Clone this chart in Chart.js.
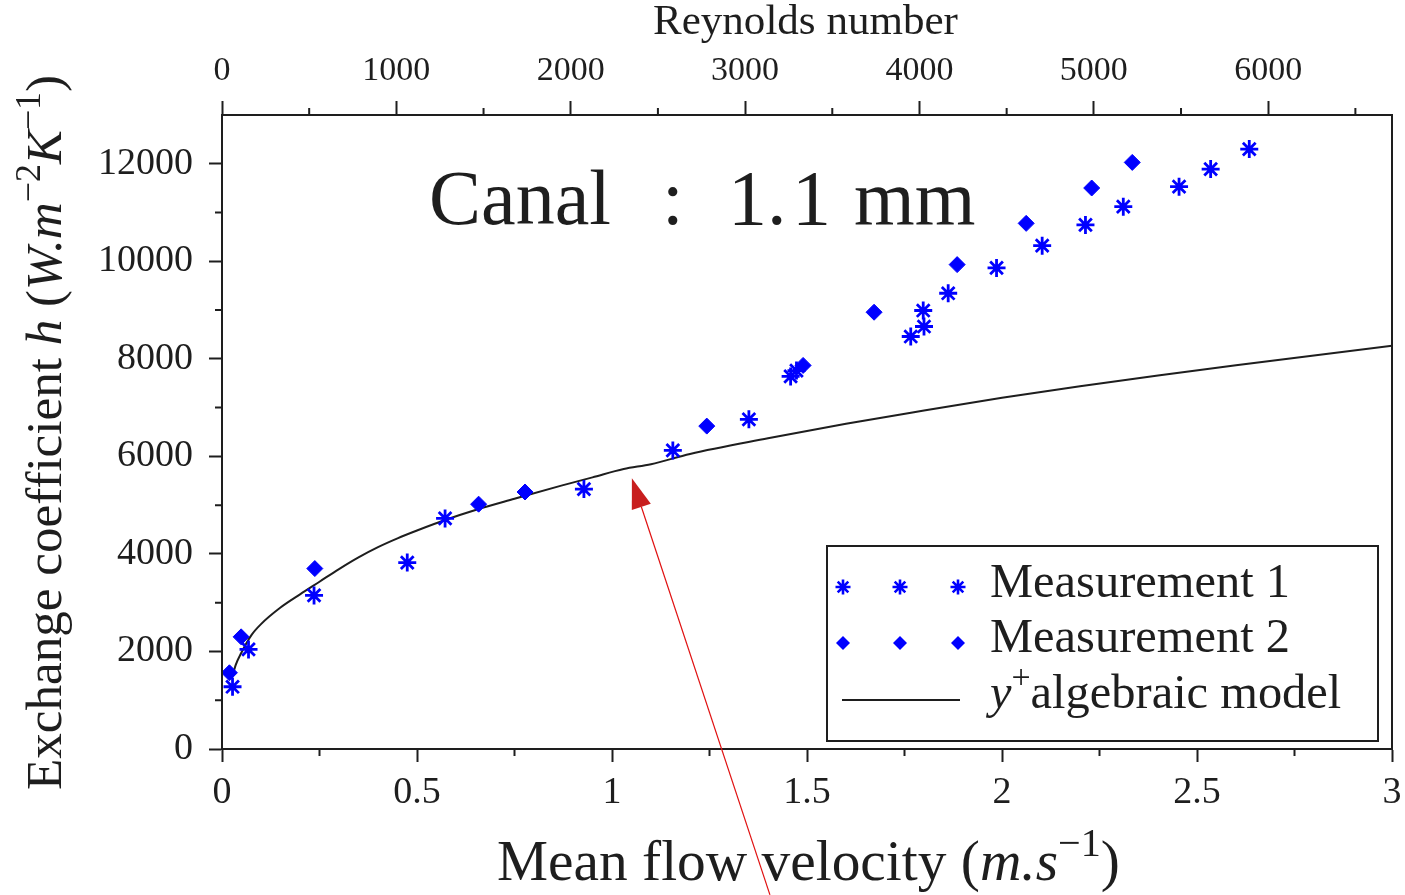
<!DOCTYPE html>
<html>
<head>
<meta charset="utf-8">
<script src="https://cdn.jsdelivr.net/npm/chart.js@4.4.1/dist/chart.umd.min.js"></script>
<style>
html,body{margin:0;padding:0;background:#fff;}
#wrap{width:1405px;height:895px;position:relative;}
</style>
</head>
<body>
<div id="wrap"><canvas id="c" width="1405" height="895"></canvas></div>
<script>
// ---- data ----
const velocityM1 = [0.027,0.068,0.236,0.475,0.572,0.928,1.156,1.351,1.458,1.473,1.766,1.798,1.800,1.862,1.986,2.103,2.214,2.311,2.454,2.535,2.634];
const hM1 = [1276,2042,3148,3823,4727,5330,6123,6760,7640,7760,8458,8991,8663,9345,9864,10321,10745,11120,11530,11892,12302];
const velocityM2 = [0.019,0.049,0.238,0.658,0.777,1.243,1.490,1.672,1.885,2.062,2.230,2.334];
const hM2 = [1563,2300,3700,5020,5270,6621,7865,8956,9932,10778,11503,12028];
const velocityModel = [0.025,0.035,0.05,0.075,0.1,0.15,0.2,0.25,0.3,0.35,0.4,0.45,0.5,0.57,0.65,0.75,0.87,0.95,1.03,1.1,1.2,1.4,1.6,1.8,2.0,2.2,2.4,2.6,2.8,3.0];
const hModel = [1440,1720,1980,2330,2560,2900,3170,3430,3690,3930,4140,4320,4480,4690,4900,5130,5400,5570,5740,5840,6050,6370,6670,6940,7200,7440,7660,7870,8070,8270];
const seriesNames = ['Measurement 1','Measurement 2','algebraic model'];
const velocityRange = [0, 3];
const hRange = [0, 13000];
const reynoldsRange = [0, 6710];
const velocityMajorTicks = [0,0.5,1,1.5,2,2.5,3];
const hMajorTicks = [0,2000,4000,6000,8000,10000,12000];
const reynoldsMajorTicks = [0,1000,2000,3000,4000,5000,6000];
const velocityMinorTicks = [0.25,0.75,1.25,1.75,2.25,2.75];
const hMinorTicks = [1000,3000,5000,7000,9000,11000];
const reynoldsMinorTicks = [500,1500,2500,3500,4500,5500,6500];
const arrowTail = [1.405, -2990];
const arrowTip = [1.051, 5550];

const BLUE = '#0000ff';
const INK = '#1e1e1e';
const SERIF = '"Liberation Serif", "Times New Roman", serif';

function toPts(xs, ys){ return xs.map((v,i)=>({x:v, y:ys[i]})); }

function segFont(s, size){
  const fs = s.sup ? size*0.7 : size;
  return (s.it ? 'italic ' : '') + fs.toFixed(2) + 'px ' + SERIF;
}
function richWidth(ctx, segs, size){
  let w = 0;
  for (const s of segs){ ctx.font = segFont(s,size); w += ctx.measureText(s.t).width; }
  return w;
}
function drawRich(ctx, segs, x, y, size){
  let cx = x;
  for (const s of segs){
    ctx.font = segFont(s,size);
    ctx.fillText(s.t, cx, s.sup ? y - size*0.42 : y);
    cx += ctx.measureText(s.t).width;
  }
}
function fitSize(ctx, segs, width){
  return 100 * width / richWidth(ctx, segs, 100);
}

function drawStar(ctx, x, y, r, lw){
  ctx.save();
  ctx.strokeStyle = BLUE; ctx.lineWidth = lw; ctx.lineCap = 'butt';
  ctx.beginPath();
  for (let k=0;k<4;k++){
    const a = k*Math.PI/4;
    ctx.moveTo(x - r*Math.cos(a), y - r*Math.sin(a));
    ctx.lineTo(x + r*Math.cos(a), y + r*Math.sin(a));
  }
  ctx.stroke();
  ctx.restore();
}
function drawDiamond(ctx, x, y, r){
  ctx.save();
  ctx.fillStyle = BLUE;
  ctx.beginPath();
  ctx.moveTo(x, y - r); ctx.lineTo(x + r, y); ctx.lineTo(x, y + r); ctx.lineTo(x - r, y);
  ctx.closePath(); ctx.fill();
  ctx.restore();
}

const decorPlugin = {
  id: 'decor',
  afterDraw(chart){
    const ctx = chart.ctx;
    const a = chart.chartArea;
    const sx = chart.scales.x, sy = chart.scales.y, sx2 = chart.scales.x2;
    ctx.save();
    // frame
    ctx.strokeStyle = INK; ctx.lineWidth = 2;
    ctx.strokeRect(a.left, a.top, a.right - a.left, a.bottom - a.top);
    // minor ticks
    ctx.beginPath();
    for (const v of velocityMinorTicks){ const p = sx.getPixelForValue(v); ctx.moveTo(p, a.bottom); ctx.lineTo(p, a.bottom + 7); }
    for (const v of reynoldsMinorTicks){ const p = sx2.getPixelForValue(v); ctx.moveTo(p, a.top); ctx.lineTo(p, a.top - 7); }
    for (const v of hMinorTicks){ const p = sy.getPixelForValue(v); ctx.moveTo(a.left, p); ctx.lineTo(a.left - 7, p); }
    ctx.stroke();

    ctx.fillStyle = INK;
    ctx.textBaseline = 'alphabetic';
    ctx.textAlign = 'left';
    // in-plot title
    ctx.font = '78px ' + SERIF;
    ctx.fillText('Canal', a.left + 207, 224);
    ctx.fillText(':', a.left + 440, 224);
    ctx.fillText('1.', a.left + 506, 224);
    ctx.fillText('1', a.left + 570, 224);
    ctx.fillText('mm', a.left + 632, 224);

    // bottom axis title
    const bSegs = [{t:'Mean flow velocity ('},{t:'m.s',it:1},{t:'\u22121',sup:1},{t:')'}];
    const bSize = fitSize(ctx, bSegs, 623);
    drawRich(ctx, bSegs, 497, 880, bSize);
    // top axis title
    const tSegs = [{t:'Reynolds number'}];
    const tSize = fitSize(ctx, tSegs, 305);
    drawRich(ctx, tSegs, 653, 34, tSize);
    // left axis title (rotated)
    const ySegs = [{t:'Exchange coefficient '},{t:'h',it:1},{t:' ('},{t:'W.m',it:1},{t:'\u22122',sup:1},{t:'K',it:1},{t:'\u22121',sup:1},{t:')'}];
    const ySize = fitSize(ctx, ySegs, 715);
    ctx.save();
    ctx.translate(61, 790);
    ctx.rotate(-Math.PI/2);
    drawRich(ctx, ySegs, 0, 0, ySize);
    ctx.restore();

    // legend
    const lx = a.right - 565, ly = a.bottom - 203, lw = 551, lh = 195;
    ctx.strokeStyle = INK; ctx.lineWidth = 2;
    ctx.fillStyle = '#fff';
    ctx.fillRect(lx, ly, lw, lh);
    ctx.strokeRect(lx, ly, lw, lh);
    const mxs = [lx + 16, lx + 73, lx + 131];
    for (const mx of mxs){ drawStar(ctx, mx, ly + 41, 7.5, 2.6); drawDiamond(ctx, mx, ly + 97, 7); }
    ctx.strokeStyle = INK; ctx.lineWidth = 2;
    ctx.beginPath(); ctx.moveTo(lx + 15, ly + 154); ctx.lineTo(lx + 133, ly + 154); ctx.stroke();
    ctx.fillStyle = INK;
    const legSize = fitSize(ctx, [{t:seriesNames[0]}], 300);
    drawRich(ctx, [{t:seriesNames[0]}], lx + 163, ly + 51, legSize);
    drawRich(ctx, [{t:seriesNames[1]}], lx + 163, ly + 106, legSize);
    drawRich(ctx, [{t:'y',it:1},{t:'+',sup:1},{t:seriesNames[2]}], lx + 163, ly + 162, legSize);

    // red arrow annotation
    const x0 = sx.getPixelForValue(arrowTail[0]), y0 = sy.getPixelForValue(arrowTail[1]);
    const x1 = sx.getPixelForValue(arrowTip[0]), y1 = sy.getPixelForValue(arrowTip[1]);
    const dx = x1 - x0, dy = y1 - y0, L = Math.hypot(dx, dy);
    const ux = dx / L, uy = dy / L;
    const hl = 30, hw = 10;
    const bx = x1 - ux*hl, by = y1 - uy*hl;
    ctx.strokeStyle = '#e01010'; ctx.lineWidth = 1.2;
    ctx.beginPath(); ctx.moveTo(x0, y0); ctx.lineTo(bx, by); ctx.stroke();
    ctx.fillStyle = '#c81e1e';
    ctx.beginPath();
    ctx.moveTo(x1, y1);
    ctx.lineTo(bx - uy*hw, by + ux*hw);
    ctx.lineTo(bx + uy*hw, by - ux*hw);
    ctx.closePath(); ctx.fill();
    ctx.restore();
  }
};

function fixTicks(list){ return s => { s.ticks = list.map(v => ({value: v})); }; }
function noPad(size, key){
  return s => { s[key] = size; s.paddingLeft = 0; s.paddingRight = 0; s.paddingTop = 0; s.paddingBottom = 0; };
}

const tickFont = {family: SERIF, size: 38};
new Chart(document.getElementById('c'), {
  type: 'scatter',
  data: {
    datasets: [
      { label: seriesNames[0], data: toPts(velocityM1, hM1), pointStyle: 'star', pointRadius: 9, borderColor: BLUE, backgroundColor: BLUE, pointBorderWidth: 2.8, showLine: false },
      { label: seriesNames[1], data: toPts(velocityM2, hM2), pointStyle: 'rectRot', pointRadius: 8, borderColor: BLUE, backgroundColor: BLUE, pointBorderWidth: 1, showLine: false },
      { label: seriesNames[2], data: toPts(velocityModel, hModel), showLine: true, pointRadius: 0, borderColor: INK, borderWidth: 2, cubicInterpolationMode: 'monotone', fill: false }
    ]
  },
  options: {
    responsive: false,
    animation: false,
    devicePixelRatio: 1,
    layout: { padding: { left: 0, right: 13, top: 0, bottom: 0 } },
    plugins: { legend: { display: false }, tooltip: { enabled: false } },
    scales: {
      x: {
        type: 'linear', position: 'bottom', min: velocityRange[0], max: velocityRange[1],
        afterBuildTicks: fixTicks(velocityMajorTicks),
        afterFit: noPad(146, 'height'),
        ticks: { padding: 8, font: tickFont, color: INK, maxRotation: 0, autoSkip: false, callback: v => String(v) },
        grid: { drawOnChartArea: false, drawTicks: true, tickLength: 13, tickColor: INK, tickWidth: 2 },
        border: { display: true, color: INK, width: 2 }
      },
      x2: {
        type: 'linear', position: 'top', min: reynoldsRange[0], max: reynoldsRange[1],
        afterBuildTicks: fixTicks(reynoldsMajorTicks),
        afterFit: noPad(115, 'height'),
        ticks: { padding: 10, font: {family: SERIF, size: 34}, color: INK, maxRotation: 0, autoSkip: false, callback: v => String(v) },
        grid: { drawOnChartArea: false, drawTicks: true, tickLength: 14, tickColor: INK, tickWidth: 2 },
        border: { display: true, color: INK, width: 2 }
      },
      y: {
        type: 'linear', position: 'left', min: hRange[0], max: hRange[1],
        afterBuildTicks: fixTicks(hMajorTicks),
        afterFit: noPad(222, 'width'),
        ticks: { padding: 16, font: tickFont, color: INK, autoSkip: false, callback: v => String(v) },
        grid: { drawOnChartArea: false, drawTicks: true, tickLength: 13, tickColor: INK, tickWidth: 2 },
        border: { display: true, color: INK, width: 2 }
      }
    }
  },
  plugins: [decorPlugin]
});
</script>
</body>
</html>
